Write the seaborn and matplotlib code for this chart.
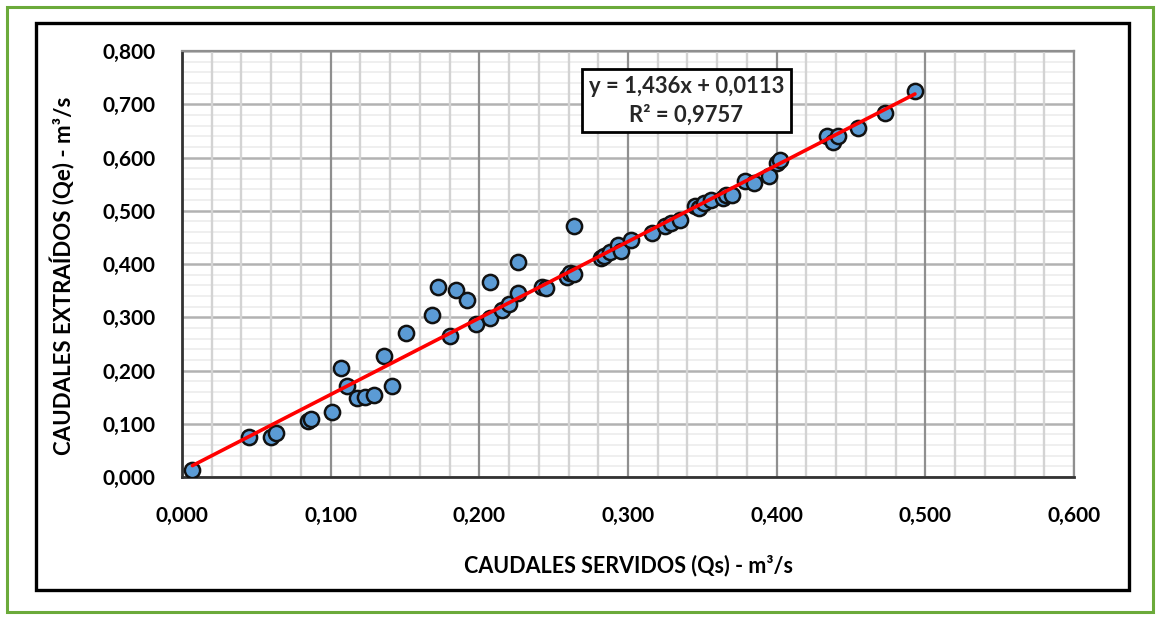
import numpy as np
import pandas as pd
import matplotlib
matplotlib.use("Agg")
import matplotlib.pyplot as plt
import seaborn as sns
from matplotlib.patches import Rectangle
from matplotlib.ticker import MultipleLocator, FuncFormatter

# ---- data ----
qs = [0.007, 0.045, 0.060, 0.063, 0.085, 0.087, 0.101, 0.107, 0.111, 0.118,
      0.123, 0.129, 0.136, 0.141, 0.151, 0.168, 0.172, 0.184, 0.192, 0.180,
      0.198, 0.207, 0.207, 0.215, 0.220, 0.226, 0.226, 0.242, 0.245, 0.259,
      0.261, 0.264, 0.264, 0.282, 0.284, 0.288, 0.293, 0.295, 0.302, 0.316,
      0.325, 0.329, 0.335, 0.345, 0.348, 0.351, 0.356, 0.364, 0.366, 0.370,
      0.379, 0.385, 0.395, 0.400, 0.402, 0.434, 0.438, 0.441, 0.455, 0.473,
      0.493]
qe = [0.013, 0.076, 0.075, 0.082, 0.106, 0.109, 0.122, 0.204, 0.171, 0.149,
      0.150, 0.154, 0.227, 0.171, 0.270, 0.305, 0.357, 0.352, 0.332, 0.264,
      0.288, 0.299, 0.366, 0.313, 0.324, 0.345, 0.404, 0.357, 0.355, 0.375,
      0.383, 0.381, 0.472, 0.411, 0.415, 0.423, 0.436, 0.424, 0.446, 0.458,
      0.471, 0.477, 0.483, 0.508, 0.505, 0.514, 0.521, 0.524, 0.530, 0.530,
      0.555, 0.552, 0.565, 0.590, 0.596, 0.640, 0.630, 0.640, 0.655, 0.684,
      0.724]
slope = 1.436
intercept = 0.0113
r2 = 0.9757
x_ticks = [0.0, 0.1, 0.2, 0.3, 0.4, 0.5, 0.6]
y_ticks = [0.0, 0.1, 0.2, 0.3, 0.4, 0.5, 0.6, 0.7, 0.8]
x_label = "CAUDALES SERVIDOS (Qs) - m³/s"
y_label = "CAUDALES EXTRAÍDOS (Qe) - m³/s"

df = pd.DataFrame({"Qs": qs, "Qe": qe})
xl = np.array([min(qs), max(qs)])
trend = pd.DataFrame({"Qs": xl, "Qe": slope * xl + intercept})

sns.set_theme(style="white")
plt.rcParams["font.family"] = ["Lato", "DejaVu Sans"]

W, H = 1158, 618
fig = plt.figure(figsize=(W / 100, H / 100), dpi=100)
fig.patch.set_facecolor("white")

# outer green frame and inner black frame
fig.add_artist(Rectangle((7 / W, 1 - 612 / H), (1153 - 7) / W, (612 - 7) / H,
                         transform=fig.transFigure, fill=False,
                         edgecolor="#6BAA3A", lw=2.2))
fig.add_artist(Rectangle((36 / W, 1 - 590 / H), (1129 - 36) / W, (590 - 23) / H,
                         transform=fig.transFigure, fill=False,
                         edgecolor="black", lw=2.4))

ax = fig.add_axes([182 / W, 1 - 477 / H, (1074 - 182) / W, (477 - 51) / H])
ax.set_xlim(x_ticks[0], x_ticks[-1])
ax.set_ylim(y_ticks[0], y_ticks[-1])
ax.set_xticks(x_ticks)
ax.set_yticks(y_ticks)
ax.xaxis.set_minor_locator(MultipleLocator(0.02))
ax.yaxis.set_minor_locator(MultipleLocator(0.02))
fmt = FuncFormatter(lambda v, p: f"{v:.3f}".replace(".", ","))
ax.xaxis.set_major_formatter(fmt)
ax.yaxis.set_major_formatter(fmt)

ax.grid(which="major", axis="x", color="#8f8f8f", lw=1.6, ls="-")
ax.grid(which="minor", axis="x", color="#d3d3d3", lw=1.7, ls="-")
ax.grid(which="major", axis="y", color="#b2b2b2", lw=1.8, ls="-")
ax.grid(which="minor", axis="y", color="#ececec", lw=1.2, ls="-")
ax.set_axisbelow(True)
ax.yaxis.set_zorder(0.3)
ax.xaxis.set_zorder(0.4)

sns.lineplot(data=trend, x="Qs", y="Qe", color="#FF0000", lw=2.6, ax=ax, zorder=4)
sns.scatterplot(data=df, x="Qs", y="Qe", s=120, color="#5B9BD5",
                edgecolor="#111111", linewidth=1.8, ax=ax, zorder=3)

for s in ["left", "bottom"]:
    ax.spines[s].set_color("#333333")
    ax.spines[s].set_linewidth(2.0)
ax.spines["top"].set_color("#8f8f8f")
ax.spines["top"].set_linewidth(1.6)
ax.spines["right"].set_color("#8f8f8f")
ax.spines["right"].set_linewidth(1.6)

ax.tick_params(which="both", length=0)
ax.tick_params(axis="x", pad=21, labelsize=15, labelcolor="black")
ax.tick_params(axis="y", pad=19, labelsize=15, labelcolor="black")
for lab in ax.get_xticklabels() + ax.get_yticklabels():
    lab.set_fontweight("bold")

ax.set_xlabel(x_label, fontsize=15.5, fontweight="bold", color="black")
ax.set_ylabel(y_label, fontsize=16, fontweight="bold", color="black")
ax.xaxis.set_label_coords(0.5, -0.207)
ax.yaxis.set_label_coords(-0.134, 0.472)
ax.xaxis.label.set_va("center")
ax.yaxis.label.set_va("center")

eq = f"y = {slope:.3f}x + {intercept:.4f}".replace(".", ",")
rr = f"R² = {r2:.4f}".replace(".", ",")
ax.text(0.3393, 0.7068, eq + "\n" + rr, ha="center", va="center",
        multialignment="center", fontsize=15.8, fontweight="bold",
        linespacing=1.4, zorder=6,
        bbox=dict(boxstyle="square,pad=0.3", fc="white", ec="black", lw=2))

fig.savefig("out.png", dpi=100)
